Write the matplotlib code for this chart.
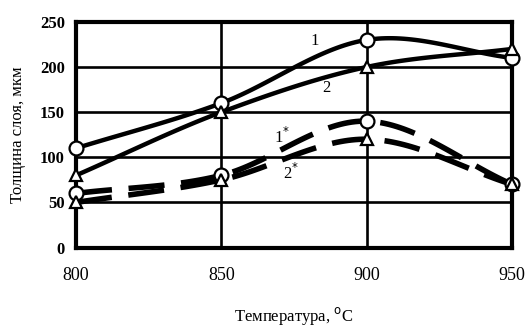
import numpy as np
import matplotlib
matplotlib.use("Agg")
import matplotlib.pyplot as plt

# data
temps = [800, 850, 900, 950]
curve_1 = [110, 160, 230, 210]
curve_2 = [80, 150, 200, 220]
curve_1s = [60, 80, 140, 70]
curve_2s = [50, 75, 120, 70]

plt.rcParams['font.family'] = ['Liberation Serif', 'DejaVu Serif']


def smooth(x, y, n=40):
    # catmull-rom style smoothing, like a "smoothed line" in a spreadsheet
    x = np.asarray(x, float)
    y = np.asarray(y, float)
    px = np.concatenate([[2 * x[0] - x[1]], x, [2 * x[-1] - x[-2]]])
    py = np.concatenate([[2 * y[0] - y[1]], y, [2 * y[-1] - y[-2]]])
    xs, ys = [], []
    t = np.linspace(0, 1, n)
    for i in range(1, len(px) - 2):
        for arr, out in ((px, xs), (py, ys)):
            p0, p1, p2, p3 = arr[i - 1], arr[i], arr[i + 1], arr[i + 2]
            out.extend(0.5 * (2 * p1 + (-p0 + p2) * t + (2 * p0 - 5 * p1 + 4 * p2 - p3) * t ** 2
                              + (-p0 + 3 * p1 - 3 * p2 + p3) * t ** 3))
    return xs, ys


fig = plt.figure(figsize=(5.26, 3.31), dpi=100)
ax = fig.add_axes([0.1445, 0.252, 0.829, 0.682])

ax.set_xlim(800, 950)
ax.set_ylim(0, 250)
ax.set_xticks(temps)
ax.set_yticks([0, 50, 100, 150, 200, 250])
ax.grid(True, color='black', linewidth=1.9)
ax.set_axisbelow(True)
for s in ax.spines.values():
    s.set_linewidth(3)
ax.tick_params(length=0, labelsize=13, pad=14)
ax.tick_params(axis='y', pad=8, labelsize=12)
for lab in ax.get_yticklabels():
    lab.set_fontweight('bold')

mk = dict(markerfacecolor='white', markeredgecolor='black', markeredgewidth=1.6, clip_on=False, zorder=5)

xs, ys = smooth(temps, curve_1)
ax.plot(xs, ys, color='black', linewidth=3.2, solid_capstyle='butt', clip_on=False)
ax.plot(temps, curve_1, 'o', markersize=10, **mk)

xs, ys = smooth(temps, curve_2)
ax.plot(xs, ys, color='black', linewidth=3.2, solid_capstyle='butt', clip_on=False)
ax.plot(temps, curve_2, '^', markersize=9, **mk)

xs, ys = smooth(temps, curve_1s)
ax.plot(xs, ys, color='black', linewidth=4, linestyle=(0, (6.5, 3)), dash_capstyle='butt', clip_on=False)
ax.plot(temps, curve_1s, 'o', markersize=10, **mk)

xs, ys = smooth(temps, curve_2s)
ax.plot(xs, ys, color='black', linewidth=4, linestyle=(0, (6.5, 3)), dash_capstyle='butt', clip_on=False)
ax.plot(temps, curve_2s, '^', markersize=9, **mk)

ax.text(882, 229, '1', fontsize=12, ha='center', va='center')
ax.text(886, 177, '2', fontsize=12, ha='center', va='center')
ax.text(871, 123, '1$^{*}$', fontsize=12, ha='center', va='center')
ax.text(874, 83, '2$^{*}$', fontsize=12, ha='center', va='center')

ax.set_ylabel('Толщина слоя, мкм', fontsize=12, labelpad=10)
ax.set_xlabel('Температура, $^{\\mathrm{o}}$C', fontsize=12, labelpad=15)

fig.savefig('out.png', dpi=100)
